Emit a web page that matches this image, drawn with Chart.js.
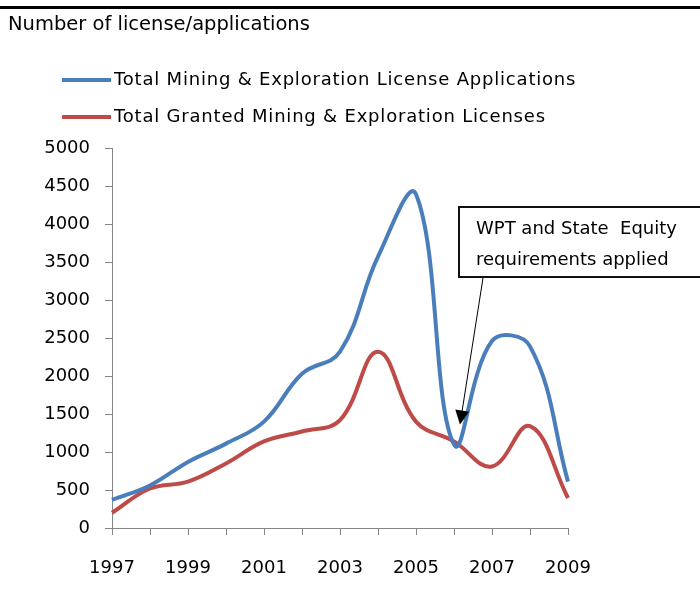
<!DOCTYPE html>
<html>
<head>
<meta charset="utf-8">
<script src="https://cdn.jsdelivr.net/npm/chart.js@4"></script>
<style>
  html, body { margin: 0; padding: 0; background: #fff; }
  #wrap { position: relative; width: 700px; height: 603px; }
</style>
</head>
<body>
<div id="wrap"><canvas id="licChart" width="700" height="603"></canvas></div>
<script>
// Data
const years = ['1997', '1998', '1999', '2000', '2001', '2002', '2003', '2004', '2005', '2006', '2007', '2008', '2009'];
const applications = [370, 560, 870, 1110, 1400, 2030, 2320, 3570, 4390, 1100, 2460, 2390, 610];
const granted = [200, 520, 610, 850, 1140, 1270, 1420, 2320, 1400, 1140, 810, 1340, 395];
const seriesNames = ['Total Mining & Exploration License Applications', 'Total Granted Mining & Exploration Licenses'];
const seriesColors = ['#4A7EBB', '#BE4B48'];
const yTicks = { min: 0, max: 5000, step: 500 };
const titleText = 'Number of license/applications';
const noteLines = ['WPT and State  Equity', 'requirements applied'];
const noteYear = '2006';

const FONT = '"DejaVu Sans", sans-serif';
const axisColor = '#868686';

// Title, legend, top rule and callout drawn onto the canvas
const extras = {
    id: 'extras',
    afterDraw(chart) {
        const c = chart.ctx;
        c.save();

        // top rule
        c.fillStyle = '#000';
        c.fillRect(0, 6, 700, 3);

        // title
        c.font = '19.5px ' + FONT;
        c.textBaseline = 'alphabetic';
        c.fillText(titleText, 8, 30);

        // legend
        c.font = '18px ' + FONT;
        c.letterSpacing = '0.8px';
        c.textBaseline = 'middle';
        seriesNames.forEach((name, i) => {
            const y = 80 + i * 37;
            c.strokeStyle = seriesColors[i];
            c.lineWidth = 4;
            c.beginPath();
            c.moveTo(62, y);
            c.lineTo(111, y);
            c.stroke();
            c.fillStyle = '#000';
            c.fillText(name, 114, y);
        });
        c.letterSpacing = '0px';

        // callout box
        c.fillStyle = '#fff';
        c.fillRect(458, 206, 250, 72);
        c.strokeStyle = '#111';
        c.lineWidth = 2;
        c.strokeRect(459, 207, 250, 70);
        c.fillStyle = '#000';
        c.font = '18px ' + FONT;
        c.textBaseline = 'middle';
        noteLines.forEach((t, i) => c.fillText(t, 476, 229 + i * 31));

        // arrow down to the 2006 dip
        const xs = chart.scales.x;
        const ys = chart.scales.y;
        const idx = years.indexOf(noteYear);
        const tipX = xs.getPixelForValue(idx) + 6;
        const tipY = ys.getPixelForValue(applications[idx]) - 20;
        const sx = 483, sy = 278;
        const ang = Math.atan2(tipY - sy, tipX - sx);
        c.strokeStyle = '#000';
        c.lineWidth = 1;
        c.beginPath();
        c.moveTo(sx, sy);
        c.lineTo(tipX - 11 * Math.cos(ang), tipY - 11 * Math.sin(ang));
        c.stroke();
        c.fillStyle = '#000';
        c.beginPath();
        c.moveTo(tipX, tipY);
        c.lineTo(tipX - 14 * Math.cos(ang) + 7 * Math.sin(ang), tipY - 14 * Math.sin(ang) - 7 * Math.cos(ang));
        c.lineTo(tipX - 14 * Math.cos(ang) - 7 * Math.sin(ang), tipY - 14 * Math.sin(ang) + 7 * Math.cos(ang));
        c.closePath();
        c.fill();

        c.restore();
    }
};

const ctx = document.getElementById('licChart').getContext('2d');
const licChart = new Chart(ctx, {
    type: 'line',
    data: {
        labels: years,
        datasets: [{
            label: seriesNames[0],
            data: applications,
            borderColor: seriesColors[0],
            borderWidth: 4,
            pointRadius: 0,
            tension: 0.4,
            fill: false
        }, {
            label: seriesNames[1],
            data: granted,
            borderColor: seriesColors[1],
            borderWidth: 4,
            pointRadius: 0,
            tension: 0.4,
            fill: false
        }]
    },
    options: {
        responsive: false,
        animation: false,
        layout: {
            padding: { top: 148, right: 132, bottom: 0, left: 0 }
        },
        plugins: {
            legend: { display: false },
            tooltip: { enabled: false }
        },
        scales: {
            x: {
                offset: false,
                afterFit: (s) => { s.height = 75; },
                grid: { display: true, drawOnChartArea: false, tickLength: 7, color: axisColor, lineWidth: 1 },
                border: { color: axisColor, width: 1 },
                ticks: {
                    autoSkip: false,
                    maxRotation: 0,
                    padding: 23,
                    color: '#000',
                    font: { family: FONT, size: 18 },
                    callback: function(v, i) { return i % 2 === 0 ? years[i] : ''; }
                }
            },
            y: {
                min: yTicks.min,
                max: yTicks.max,
                afterFit: (s) => { s.width = 112; },
                grid: { display: true, drawOnChartArea: false, tickLength: 7, color: axisColor, lineWidth: 1 },
                border: { color: axisColor, width: 1 },
                ticks: {
                    stepSize: yTicks.step,
                    padding: 15,
                    color: '#000',
                    font: { family: FONT, size: 18 },
                    callback: (v) => String(v)
                }
            }
        }
    },
    plugins: [extras]
});
</script>
</body>
</html>
